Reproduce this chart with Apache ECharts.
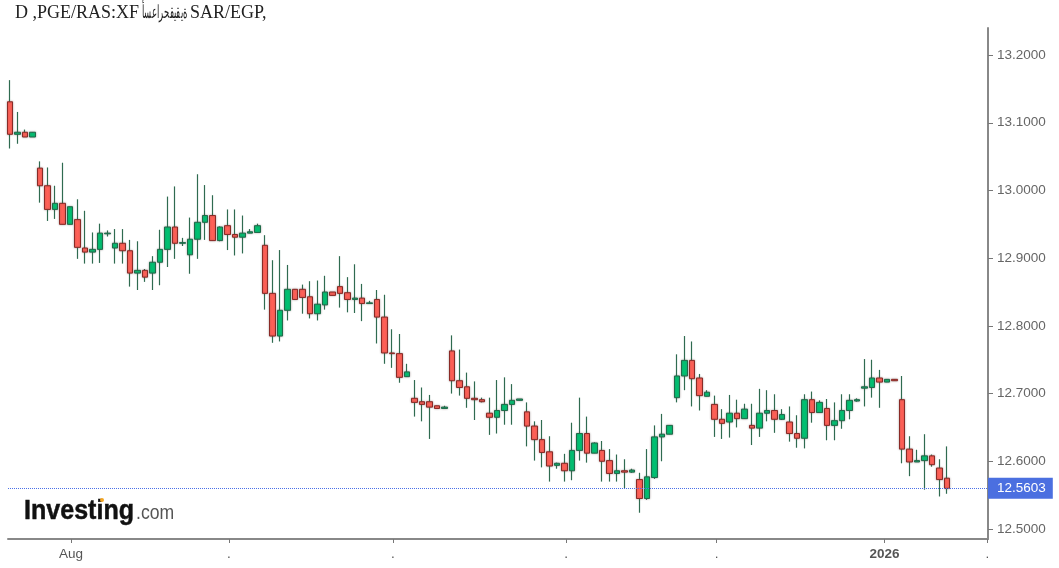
<!DOCTYPE html>
<html>
<head>
<meta charset="utf-8">
<style>
html, body { margin: 0; padding: 0; background: #fff; }
#chart { width: 1059px; height: 568px; }
</style>
<script src="https://cdn.jsdelivr.net/npm/echarts@6/dist/echarts.min.js"></script>
</head>
<body>
<div id="chart"></div>
<script>
// the title comes out character-reversed in the original, so it is forced left to right
var titleLeft = "D ,PGE/RAS:XF";
var titleArabic = "\u202Dأسعارحقيقية";
var titleRight = "SAR/EGP,";
var lastPrice = 12.5603;

// daily candles
var opens = [
    13.131,13.083,13.086,13.079,13.033,13.007,12.972,12.981,12.950,12.957,
    12.915,12.909,12.913,12.936,12.915,12.922,12.911,12.878,12.882,12.878,
    12.894,12.913,12.946,12.922,12.905,12.928,12.953,12.963,12.926,12.948,
    12.935,12.931,12.937,12.938,12.919,12.848,12.785,12.823,12.854,12.854,
    12.843,12.818,12.831,12.850,12.858,12.849,12.839,12.841,12.833,12.839,
    12.813,12.760,12.759,12.725,12.693,12.688,12.688,12.682,12.678,12.763,
    12.719,12.710,12.693,12.691,12.671,12.665,12.675,12.684,12.690,12.673,
    12.652,12.632,12.614,12.594,12.597,12.586,12.616,12.641,12.612,12.616,
    12.601,12.582,12.586,12.584,12.573,12.545,12.576,12.636,12.640,12.694,
    12.726,12.749,12.723,12.696,12.684,12.662,12.658,12.671,12.663,12.653,
    12.649,12.671,12.675,12.662,12.658,12.641,12.634,12.691,12.672,12.678,
    12.653,12.660,12.675,12.689,12.708,12.709,12.723,12.717,12.721,12.691,
    12.618,12.599,12.601,12.608,12.590,12.575
];
var closes = [
    13.083,13.086,13.079,13.086,13.007,12.972,12.981,12.950,12.976,12.916,
    12.909,12.913,12.937,12.937,12.922,12.911,12.878,12.882,12.872,12.894,
    12.913,12.946,12.922,12.923,12.928,12.953,12.963,12.926,12.946,12.935,
    12.931,12.937,12.939,12.948,12.848,12.785,12.823,12.854,12.839,12.842,
    12.818,12.832,12.850,12.845,12.848,12.839,12.841,12.833,12.834,12.813,
    12.760,12.759,12.724,12.732,12.687,12.684,12.680,12.678,12.680,12.719,
    12.709,12.693,12.691,12.688,12.665,12.675,12.684,12.690,12.692,12.652,
    12.632,12.613,12.593,12.597,12.586,12.616,12.641,12.612,12.627,12.600,
    12.582,12.586,12.584,12.587,12.545,12.577,12.636,12.640,12.653,12.726,
    12.749,12.722,12.697,12.702,12.662,12.656,12.671,12.663,12.677,12.649,
    12.671,12.675,12.662,12.669,12.641,12.634,12.691,12.672,12.687,12.653,
    12.660,12.675,12.690,12.691,12.710,12.723,12.717,12.721,12.719,12.618,
    12.599,12.601,12.608,12.595,12.573,12.560
];
var highs = [
    13.163,13.116,13.090,13.086,13.043,13.034,13.007,13.041,12.976,12.987,
    12.970,12.938,12.951,12.941,12.943,12.943,12.927,12.925,12.884,12.903,
    12.942,12.991,13.006,12.930,12.960,13.024,13.008,12.993,12.947,12.972,
    12.972,12.963,12.943,12.951,12.934,12.897,12.912,12.890,12.854,12.861,
    12.866,12.867,12.874,12.850,12.903,12.872,12.891,12.862,12.837,12.853,
    12.846,12.795,12.788,12.744,12.720,12.709,12.698,12.682,12.682,12.786,
    12.765,12.731,12.718,12.694,12.694,12.720,12.724,12.714,12.692,12.687,
    12.659,12.661,12.637,12.598,12.611,12.657,12.694,12.666,12.628,12.630,
    12.618,12.610,12.603,12.589,12.583,12.618,12.653,12.670,12.653,12.758,
    12.785,12.777,12.729,12.705,12.697,12.677,12.698,12.691,12.685,12.685,
    12.707,12.705,12.699,12.677,12.681,12.668,12.699,12.703,12.690,12.692,
    12.687,12.699,12.699,12.693,12.751,12.750,12.735,12.721,12.721,12.726,
    12.637,12.617,12.640,12.610,12.603,12.622
];
var lows = [
    13.062,13.069,13.079,13.079,12.982,12.955,12.958,12.950,12.950,12.899,
    12.892,12.892,12.893,12.932,12.892,12.892,12.858,12.853,12.865,12.853,
    12.860,12.887,12.899,12.918,12.877,12.899,12.927,12.926,12.925,12.912,
    12.904,12.907,12.937,12.938,12.824,12.775,12.777,12.808,12.839,12.818,
    12.811,12.808,12.824,12.845,12.827,12.820,12.819,12.807,12.833,12.774,
    12.744,12.738,12.716,12.725,12.666,12.659,12.633,12.678,12.678,12.700,
    12.697,12.679,12.661,12.687,12.639,12.641,12.654,12.654,12.690,12.622,
    12.601,12.591,12.570,12.589,12.570,12.572,12.601,12.598,12.612,12.570,
    12.570,12.570,12.560,12.583,12.524,12.543,12.574,12.600,12.640,12.687,
    12.705,12.681,12.675,12.696,12.636,12.633,12.635,12.650,12.663,12.624,
    12.636,12.659,12.642,12.661,12.629,12.620,12.619,12.657,12.672,12.631,
    12.631,12.648,12.662,12.688,12.681,12.694,12.679,12.717,12.719,12.597,
    12.578,12.599,12.558,12.592,12.548,12.552
];

// axis ticks
var priceTicks = [12.5, 12.6, 12.7, 12.8, 12.9, 13.0, 13.1, 13.2];
var timeTicks = [8.14, 29.2, 51.1, 74.2, 94.3, 116.7, 130.4];
var timeLabels = ["Aug", ".", ".", ".", ".", "2026", "."];

// wicks are all dark green, the bodies sit on top without wicks
var wickData = [];
var bodyData = [];
for (let i = 0; i < opens.length; i++) {
    wickData.push([i, opens[i], closes[i], lows[i], highs[i]]);
    bodyData.push([i, opens[i], closes[i], Math.min(opens[i], closes[i]), Math.max(opens[i], closes[i])]);
}

var chart = echarts.init(document.getElementById("chart"), null, { renderer: "canvas" });
var option = {
    animation: false,
    backgroundColor: "#fff",
    grid: { left: 8, right: 71, top: 28, bottom: 29 },
    xAxis: {
        type: "value",
        min: -0.27,
        max: 130.5,
        splitLine: { show: false },
        axisLine: { lineStyle: { color: "#888", width: 2 } },
        axisTick: { customValues: timeTicks, length: 4, lineStyle: { color: "#777" } },
        axisLabel: {
            customValues: timeTicks,
            margin: 8,
            fontFamily: "Liberation Sans",
            fontSize: 13.5,
            color: "#555",
            formatter: function (value) {
                var label = timeLabels[timeTicks.indexOf(value)];
                return label == "2026" ? "{b|" + label + "}" : label;
            },
            rich: { b: { fontFamily: "Liberation Sans", fontSize: 13.5, fontWeight: "bold", color: "#555" } }
        }
    },
    yAxis: {
        type: "value",
        position: "right",
        min: 12.4852,
        max: 13.24,
        splitLine: { show: false },
        axisLine: { show: true, onZero: false, lineStyle: { color: "#888", width: 2 } },
        axisTick: { customValues: priceTicks, length: 5, lineStyle: { color: "#777" } },
        axisLabel: {
            customValues: priceTicks,
            margin: 9,
            padding: [2, 0, 0, 0],
            fontFamily: "Liberation Sans",
            fontSize: 13.5,
            color: "#666",
            formatter: function (value) { return value.toFixed(4); }
        }
    },
    series: [
        {
            name: "wicks",
            type: "candlestick",
            data: wickData,
            barWidth: 1,
            itemStyle: { color: "#2f6b50", color0: "#2f6b50", borderColor: "#2f6b50", borderColor0: "#2f6b50", borderWidth: 1.2 }
        },
        {
            name: "bodies",
            type: "candlestick",
            data: bodyData,
            barWidth: 6,
            itemStyle: {
                color: "#00c172", color0: "#ff6057", borderColor: "#1f6b4a", borderColor0: "#8a2a26", borderWidth: 1,
                shadowBlur: 2, shadowColor: "rgba(90,70,70,0.45)"
            },
            markLine: {
                silent: true,
                symbol: "none",
                animation: false,
                lineStyle: { color: "#4a70e8", type: "dotted", width: 1 },
                label: {
                    position: "end",
                    distance: 0,
                    formatter: lastPrice.toFixed(4),
                    color: "#fff",
                    backgroundColor: "#4b6fe0",
                    fontFamily: "Liberation Sans",
                    fontSize: 13.5,
                    padding: [4, 7, 3, 9]
                },
                data: [{ yAxis: lastPrice }]
            }
        }
    ],
    graphic: [
        // title, the Arabic part is squeezed in the original
        { type: "text", x: 15, y: 4, style: { text: titleLeft, fontFamily: "Liberation Serif", fontSize: 18, fill: "#222" } },
        { type: "text", x: 142, y: 4, scaleX: 0.47, style: { text: titleArabic, fontFamily: "Liberation Serif", fontSize: 18, fill: "#222" } },
        { type: "text", x: 190, y: 4, style: { text: titleRight, fontFamily: "Liberation Serif", fontSize: 18, fill: "#222" } },
        // the Investing.com logo
        { type: "text", x: 24, y: 497, scaleX: 0.895, style: { text: "Investing", fontFamily: "Liberation Sans", fontSize: 28, fontWeight: "bold", fill: "#111", stroke: "#111", lineWidth: 0.5 } },
        { type: "text", x: 136, y: 503, scaleX: 0.88, style: { text: ".com", fontFamily: "Liberation Sans", fontSize: 20, fill: "#555" } },
        { type: "circle", shape: { cx: 102, cy: 500, r: 2 }, style: { fill: "#f5a623" } }
    ]
};
chart.setOption(option);
</script>
</body>
</html>
